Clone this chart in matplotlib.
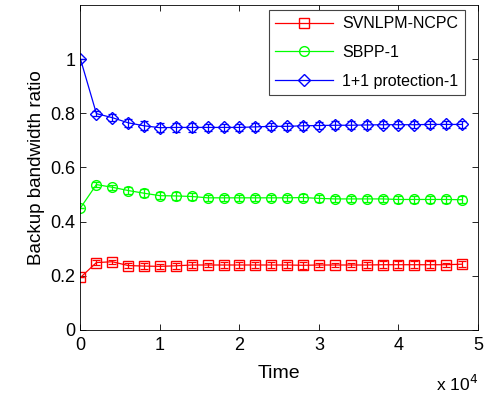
import numpy as np
import matplotlib
matplotlib.use("Agg")
import matplotlib.pyplot as plt
from matplotlib.ticker import FuncFormatter
from matplotlib.lines import Line2D

plt.rcParams['font.family'] = ['Liberation Sans', 'DejaVu Sans']

# time samples
time = [0, 2000, 4000, 6000, 8000, 10000, 12000, 14000, 16000, 18000,
        20000, 22000, 24000, 26000, 28000, 30000, 32000, 34000, 36000,
        38000, 40000, 42000, 44000, 46000, 48000]

svnlpm = [0.194, 0.249, 0.252, 0.238, 0.236, 0.235, 0.237, 0.240, 0.240, 0.240,
          0.240, 0.240, 0.240, 0.240, 0.239, 0.240, 0.240, 0.240, 0.240,
          0.241, 0.241, 0.241, 0.241, 0.241, 0.243]
svnlpm_err = [0.0, 0.008, 0.008, 0.010, 0.012, 0.008, 0.012, 0.010, 0.008, 0.010,
              0.010, 0.010, 0.012, 0.010, 0.012, 0.008, 0.008, 0.008, 0.010,
              0.012, 0.012, 0.012, 0.012, 0.008, 0.012]

sbpp = [0.451, 0.537, 0.527, 0.515, 0.505, 0.496, 0.495, 0.493, 0.488, 0.488,
        0.488, 0.488, 0.488, 0.488, 0.489, 0.486, 0.484, 0.484, 0.484,
        0.484, 0.482, 0.482, 0.482, 0.482, 0.481]
sbpp_err = [0.0, 0.010, 0.010, 0.012, 0.014, 0.012, 0.014, 0.012, 0.012, 0.012,
            0.012, 0.012, 0.012, 0.012, 0.014, 0.012, 0.012, 0.012, 0.012,
            0.012, 0.012, 0.012, 0.012, 0.012, 0.012]

prot = [1.0, 0.799, 0.784, 0.765, 0.754, 0.747, 0.748, 0.748, 0.748, 0.748,
        0.748, 0.750, 0.752, 0.752, 0.754, 0.755, 0.756, 0.756, 0.757,
        0.758, 0.758, 0.758, 0.759, 0.759, 0.759]
prot_err = [0.0, 0.010, 0.012, 0.014, 0.016, 0.016, 0.016, 0.016, 0.014, 0.014,
            0.014, 0.014, 0.014, 0.014, 0.014, 0.014, 0.014, 0.014, 0.014,
            0.014, 0.014, 0.014, 0.014, 0.014, 0.014]

labels = ['SVNLPM-NCPC', 'SBPP-1', '1+1 protection-1']

fig = plt.figure(figsize=(4.85, 3.94), dpi=100)
ax = fig.add_axes([80.5 / 485, 1 - 330 / 394, (478 - 80.5) / 485, (330 - 5) / 394])

series = [(svnlpm, svnlpm_err, 's', '#ff0000'),
          (sbpp, sbpp_err, 'o', '#00ff00'),
          (prot, prot_err, 'D', '#0000ff')]
handles = []
for (vals, errs, mk, col), lab in zip(series, labels):
    ms = 7 if mk != 'D' else 6
    ax.errorbar(time, vals, yerr=errs, fmt='-' + mk, color=col, mfc='none',
                mec=col, ms=ms, lw=0.9, elinewidth=0.9,
                capsize=3, capthick=0.9)
    handles.append(Line2D([], [], color=col, marker=mk, ms=ms, mfc='none',
                          mec=col, lw=0.9, label=lab))

ax.set_xlim(0, 50000)
ax.set_ylim(0, 1.2)
ax.set_xticks([0, 10000, 20000, 30000, 40000, 50000])
ax.set_yticks([0, 0.2, 0.4, 0.6, 0.8, 1.0])
ax.xaxis.set_major_formatter(FuncFormatter(lambda v, p: f"{v / 1e4:g}"))
ax.yaxis.set_major_formatter(FuncFormatter(lambda v, p: f"{v:g}"))
ax.tick_params(direction='in', top=True, right=True, labelsize=13, length=4, width=0.6)
ax.tick_params(axis='x', pad=5)
for s in ax.spines.values():
    s.set_linewidth(0.6)

ax.set_xlabel('Time', fontsize=14, labelpad=8)
ax.set_ylabel('Backup bandwidth ratio', fontsize=13.5)
ax.text(1.0, -0.135, r'x 10$^4$', transform=ax.transAxes, ha='right', va='top', fontsize=12.5)

leg = ax.legend(handles=handles, loc='upper right', bbox_to_anchor=(465 / 485, 1 - 10 / 394),
                bbox_transform=fig.transFigure, fontsize=11.5, fancybox=False,
                framealpha=1, edgecolor='#444444', handlelength=3.6,
                borderaxespad=0, labelspacing=0.85, handletextpad=0.6)
leg.get_frame().set_linewidth(0.8)

fig.savefig('out.png', dpi=100)
